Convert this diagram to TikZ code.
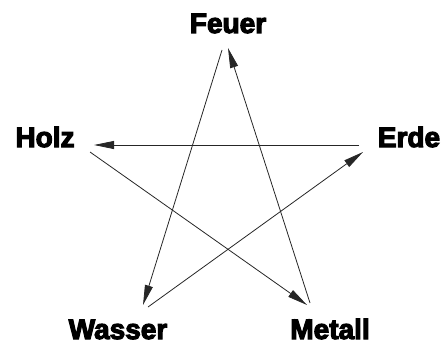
\documentclass[tikz,border=0pt]{standalone}
\usepackage{fontspec}
\newfontfamily\labfont{Liberation Sans Bold}[FakeBold=4]
\usetikzlibrary{arrows.meta}
\tikzset{
  lab/.style={font=\labfont\fontsize{28}{30}\selectfont, inner sep=0pt, anchor=base},
  conn/.style={draw=black!85, line width=0.8pt, -{Triangle[length=20pt,width=8pt]}}
}
\begin{document}
\begin{tikzpicture}[x=1pt,y=-1pt]
\useasboundingbox (0,0) rectangle (443,345);
\node[lab] (feuer) at (228,33) {Feuer};
\node[lab] (holz) at (45,147) {Holz};
\node[lab] (erde) at (409,147) {Erde};
\node[lab] (wasser) at (118,339) {Wasser};
\node[lab] (metall) at (330,339) {Metall};
% endpoints near each label
\coordinate (fs) at (222,50);
\coordinate (ft) at (228,48);
\coordinate (ht) at (94,145);
\coordinate (hs) at (90,152);
\coordinate (es) at (359,145);
\coordinate (et) at (363,152);
\coordinate (wt) at (143,305);
\coordinate (ws) at (148,307);
\coordinate (mt) at (307,305);
\coordinate (ms) at (310,303);
\draw[conn] (fs) -- (wt);
\draw[conn] (ms) -- (ft);
\draw[conn] (es) -- (ht);
\draw[conn] (hs) -- (mt);
\draw[conn] (ws) -- (et);
\end{tikzpicture}
\end{document}
